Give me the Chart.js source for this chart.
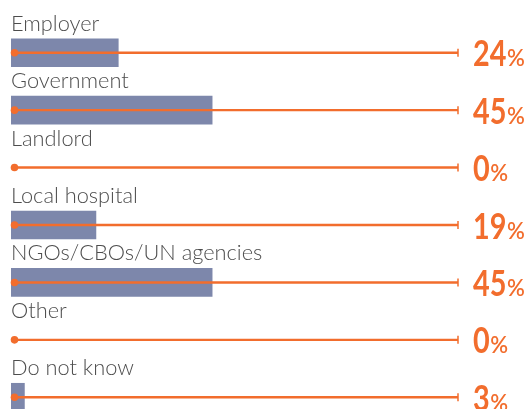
<!DOCTYPE html>
<html>
<head>
<meta charset="utf-8">
<script src="https://cdn.jsdelivr.net/npm/chart.js@4"></script>
<style>
  html, body { margin: 0; padding: 0; background: #fff; overflow: hidden; }
  #wrap { width: 528px; height: 409px; overflow: hidden; }
</style>
</head>
<body>
<div id="wrap"><canvas id="chart" width="528" height="430"></canvas></div>
<script>
const categories = ["Employer", "Government", "Landlord", "Local hospital", "NGOs/CBOs/UN agencies", "Other", "Do not know"];
const shares = [24, 45, 0, 19, 45, 0, 3];
const scaleMax = 100;

const BAR = "#7d87ab";
const ORANGE = "#f26d2d";

// rail line + dot + end tick + text labels
const railLabels = {
  id: "railLabels",
  afterDatasetsDraw(chart) {
    const { ctx, scales: { x, y } } = chart;
    const x0 = x.getPixelForValue(0);
    const x1 = x.getPixelForValue(scaleMax);
    ctx.save();
    categories.forEach((cat, i) => {
      const cy = y.getPixelForValue(i);
      // dot
      ctx.fillStyle = ORANGE;
      ctx.beginPath();
      ctx.arc(x0 + 3.5, cy, 3.8, 0, Math.PI * 2);
      ctx.fill();
      // tick
      ctx.strokeStyle = ORANGE;
      ctx.lineWidth = 1.5;
      ctx.beginPath();
      ctx.moveTo(x1, cy - 4);
      ctx.lineTo(x1, cy + 4);
      ctx.stroke();
      // category label
      ctx.fillStyle = "#4d4d4d";
      ctx.font = "300 21.8px Lato";
      ctx.textBaseline = "alphabetic";
      ctx.textAlign = "left";
      ctx.fillText(cat, x0, cy - 22);
      // percent
      const tx = x1 + 15;
      const ty = cy + 13.5;
      ctx.fillStyle = ORANGE;
      ctx.font = "bold 36px Lato";
      const num = String(shares[i]);
      const w = ctx.measureText(num).width * 0.8;
      ctx.save();
      ctx.translate(tx, ty);
      ctx.scale(0.8, 1);
      ctx.fillText(num, 0, 0);
      ctx.restore();
      ctx.font = "600 22px Lato";
      ctx.fillText("%", tx + w + 0.5, ty);
    });
    ctx.restore();
  }
};

new Chart(document.getElementById("chart").getContext("2d"), {
  type: "bar",
  data: {
    labels: categories,
    datasets: [
      {
        label: "rail",
        data: categories.map(() => [0, scaleMax]),
        backgroundColor: ORANGE,
        barThickness: 1.8,
        order: 0
      },
      {
        label: "share",
        data: shares.map(v => v || null),
        backgroundColor: BAR,
        barThickness: 28,
        order: 1
      }
    ]
  },
  options: {
    indexAxis: "y",
    responsive: false,
    animation: false,
    layout: { padding: { left: 11, right: 70, top: 24, bottom: 4 } },
    datasets: { bar: { grouped: false, borderWidth: 0 } },
    scales: {
      x: { display: false, min: 0, max: scaleMax },
      y: { display: false }
    },
    plugins: { legend: { display: false }, tooltip: { enabled: false } }
  },
  plugins: [railLabels]
});
</script>
</body>
</html>
